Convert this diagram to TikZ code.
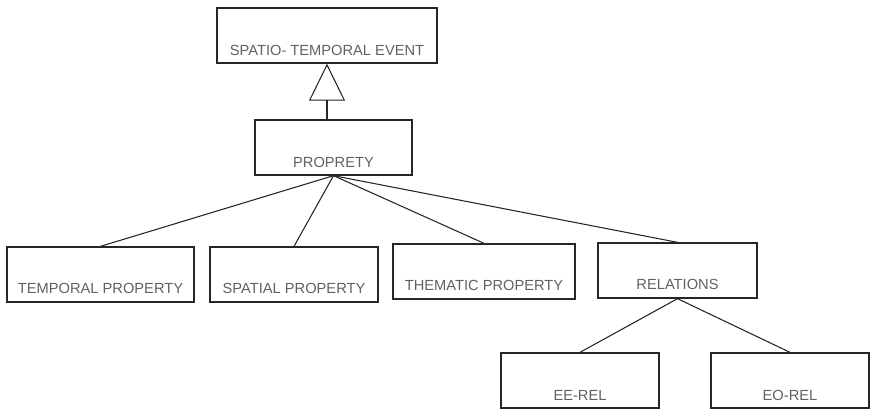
\documentclass[tikz,border=0pt]{standalone}
\usepackage{fontspec}
\setmainfont{Liberation Sans}
\usetikzlibrary{arrows.meta}
\begin{document}
\begin{tikzpicture}[x=0.75pt,y=-0.75pt,
  box/.style={draw=black!85,line width=1pt,inner sep=0pt},
  lbl/.style={text=black!62,font=\fontsize{11}{13}\selectfont,anchor=base,inner sep=0pt},
  conn/.style={draw=black!85,line width=0.8pt},
  inh/.style={draw=black!85,line width=0.8pt,-{Triangle[open,length=27.75pt,width=27pt,line width=0.8pt]}}]
\useasboundingbox (0,0) rectangle (880,413);
% boxes
\node[box,minimum width=220*0.75pt,minimum height=55*0.75pt] (top) at (327,35.5) {};
\node[box,minimum width=157*0.75pt,minimum height=55*0.75pt] (prop) at (333.5,147.5) {};
\node[box,minimum width=187*0.75pt,minimum height=55*0.75pt] (tp) at (100.5,274.5) {};
\node[box,minimum width=168*0.75pt,minimum height=55*0.75pt] (sp) at (294,274.5) {};
\node[box,minimum width=182*0.75pt,minimum height=55*0.75pt] (thp) at (484,271.5) {};
\node[box,minimum width=159*0.75pt,minimum height=55*0.75pt] (rel) at (677.5,270.5) {};
\node[box,minimum width=158*0.75pt,minimum height=55*0.75pt] (ee) at (580,380.5) {};
\node[box,minimum width=158*0.75pt,minimum height=55*0.75pt] (eo) at (790,380.5) {};
% labels
\node[lbl] (toplbl) at ([yshift=8.5*0.75pt]top.south) {SPATIO- TEMPORAL EVENT};
\node[lbl] (proplbl) at ([yshift=8.5*0.75pt]prop.south) {PROPRETY};
\node[lbl] (tplbl) at ([yshift=9*0.75pt]tp.south) {TEMPORAL PROPERTY};
\node[lbl] (splbl) at ([yshift=9*0.75pt]sp.south) {SPATIAL PROPERTY};
\node[lbl] (thplbl) at ([yshift=9*0.75pt]thp.south) {THEMATIC PROPERTY};
\node[lbl] (rellbl) at ([yshift=9*0.75pt]rel.south) {RELATIONS};
\node[lbl] (eelbl) at ([yshift=8.5*0.75pt]ee.south) {EE-REL};
\node[lbl] (eolbl) at ([yshift=8.5*0.75pt]eo.south) {EO-REL};
% connectors
\draw[inh] (prop.north -| top.south) -- (top.south);
\draw[conn] (prop.south) -- (tp.north);
\draw[conn] (prop.south) -- (sp.north);
\draw[conn] (prop.south) -- (thp.north);
\draw[conn] (prop.south) -- (rel.north);
\draw[conn] (rel.south) -- (ee.north);
\draw[conn] (rel.south) -- (eo.north);
\end{tikzpicture}
\end{document}
